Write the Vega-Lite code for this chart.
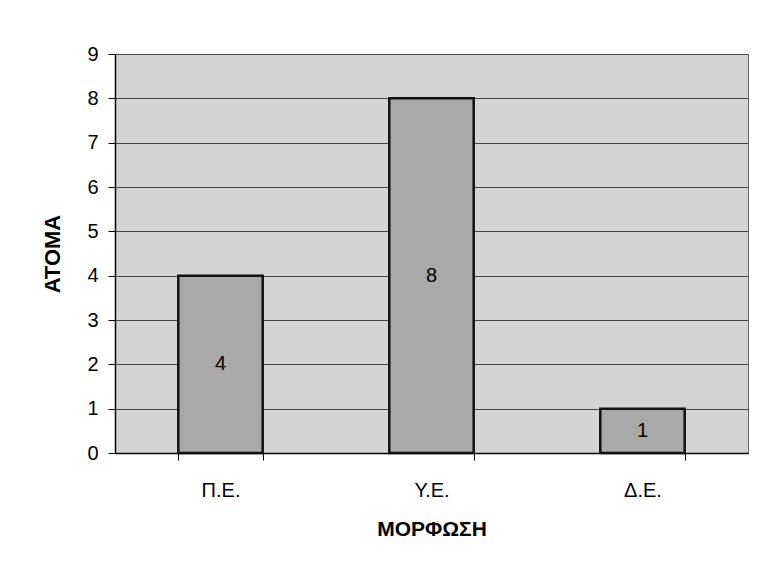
{
  "$schema": "https://vega.github.io/schema/vega-lite/v6.json",
  "width": 633,
  "height": 399,
  "autosize": "none",
  "padding": {"left": 115, "top": 54, "right": 13, "bottom": 129},
  "background": "#ffffff",
  "config": {
    "view": {"fill": "#d4d4d4", "stroke": "#666666", "strokeWidth": 1},
    "font": "Liberation Sans"
  },
  "data": {
    "values": [
      {"morfosi": "Π.Ε.", "atoma": 4},
      {"morfosi": "Υ.Ε.", "atoma": 8},
      {"morfosi": "Δ.Ε.", "atoma": 1}
    ]
  },
  "encoding": {
    "x": {
      "field": "morfosi",
      "type": "nominal",
      "sort": ["Π.Ε.", "Υ.Ε.", "Δ.Ε."],
      "scale": {"paddingInner": 0.6, "paddingOuter": 0.3},
      "axis": {
        "title": "ΜΟΡΦΩΣΗ",
        "titleFont": "Liberation Sans",
        "titleFontSize": 21,
        "titleFontWeight": "bold",
        "titleColor": "#000000",
        "titlePadding": 18,
        "labelAngle": 0,
        "labelFontSize": 20,
        "labelColor": "#000000",
        "labelPadding": 20,
        "tickBand": "extent",
        "tickSize": 7,
        "tickColor": "#000000",
        "domainColor": "#000000",
        "domainWidth": 1.5
      }
    },
    "y": {
      "field": "atoma",
      "type": "quantitative",
      "scale": {"domain": [0, 9], "nice": false},
      "axis": {
        "title": "ΑΤΟΜΑ",
        "titleFont": "Liberation Sans",
        "titleFontSize": 22,
        "titleFontWeight": "bold",
        "titleColor": "#000000",
        "titlePadding": 22,
        "values": [0, 1, 2, 3, 4, 5, 6, 7, 8, 9],
        "labelFontSize": 20,
        "labelColor": "#000000",
        "labelPadding": 10,
        "tickSize": 7,
        "tickColor": "#000000",
        "domainColor": "#000000",
        "domainWidth": 1.5,
        "grid": true,
        "gridColor": "#444444",
        "gridWidth": 1
      }
    }
  },
  "layer": [
    {
      "mark": {"type": "bar", "fill": "#a9a9a9", "stroke": "#111111", "strokeWidth": 2.5}
    },
    {
      "transform": [{"calculate": "datum.atoma / 2", "as": "mid"}],
      "mark": {"type": "text", "fontSize": 20, "color": "#000000", "baseline": "middle"},
      "encoding": {
        "y": {"field": "mid", "type": "quantitative"},
        "text": {"field": "atoma", "type": "quantitative"}
      }
    }
  ]
}
